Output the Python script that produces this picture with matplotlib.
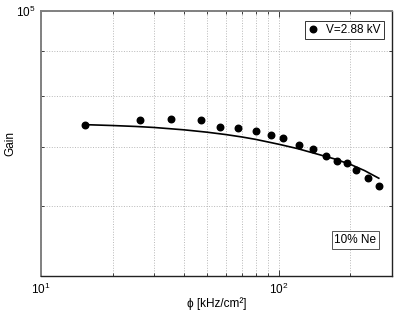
import numpy as np
import matplotlib
matplotlib.use('Agg')
import matplotlib.pyplot as plt
from matplotlib.ticker import FixedLocator, NullFormatter, LogFormatterSciNotation

plt.rcParams['font.family'] = ['Liberation Sans', 'DejaVu Sans']
plt.rcParams['font.size'] = 8.5

# measured points (rate in kHz/cm^2, gain)
rate = [15.3, 26.1, 35.3, 47.1, 56.6, 67.2, 80.0, 92.5, 103.9, 122.1,
        139.8, 157.6, 176.0, 193.2, 211.4, 236.8, 265.0]
gain = [74250, 75220, 75300, 75170, 73870, 73680, 73050, 72340, 71770, 70420,
        69740, 68420, 67580, 67130, 65960, 64600, 63210]

# fit curve
fit_rate = [15.3, 20, 25, 30, 40, 50, 60, 70, 80, 100, 120, 140, 170, 200, 230, 264]
fit_gain = [74250, 74080, 73900, 73700, 73250, 72800, 72350, 71900, 71450, 70550,
            69750, 68950, 67950, 66950, 65850, 64550]

legend_label = 'V=2.88 kV'
box_text = '10% Ne'

fig = plt.figure(figsize=(4.09, 3.14), dpi=100)
ax = fig.add_axes([0.1002, 0.121, 0.8582, 0.845])

ax.plot(fit_rate, fit_gain, color='black', lw=1.2, zorder=3)
ax.plot(rate, gain, 'o', color='black', ms=4.7, ls='none', label=legend_label, zorder=4)

ax.set_xscale('log')
ax.set_yscale('log')
ax.set_xlim(10, 300)
ax.set_ylim(5e4, 1e5)

ax.xaxis.set_major_locator(FixedLocator([10, 100]))
ax.xaxis.set_minor_locator(FixedLocator([20, 30, 40, 50, 60, 70, 80, 90, 200]))
ax.xaxis.set_major_formatter(LogFormatterSciNotation())
ax.xaxis.set_minor_formatter(NullFormatter())
ax.yaxis.set_major_locator(FixedLocator([1e5]))
ax.yaxis.set_minor_locator(FixedLocator([6e4, 7e4, 8e4, 9e4]))
ax.yaxis.set_major_formatter(LogFormatterSciNotation())
ax.yaxis.set_minor_formatter(NullFormatter())

ax.tick_params(which='both', direction='in', top=True, right=True, colors='#222222',
               labelcolor='black', width=0.6)
ax.tick_params(which='major', length=4, pad=4)
ax.tick_params(which='minor', length=2.5)

ax.grid(True, which='both', ls=':', color='#b8b8b8', lw=0.7)

for s in ['left', 'top']:
    ax.spines[s].set_color('#808080')
    ax.spines[s].set_linewidth(1.4)
for s in ['right', 'bottom']:
    ax.spines[s].set_color('#222222')
    ax.spines[s].set_linewidth(1.0)

ax.set_xlabel('\u03d5 [kHz/cm\u00b2]', labelpad=0)
ax.set_ylabel('Gain')
ax.yaxis.set_label_coords(-0.07, 0.5)

leg = ax.legend(loc='upper right', bbox_to_anchor=(0.977, 0.962), borderaxespad=0,
                fancybox=False, edgecolor='#333333', framealpha=1,
                handlelength=1.0, handletextpad=0.6, borderpad=0.25, numpoints=1)
leg.get_frame().set_linewidth(0.7)

ax.text(0.896, 0.136, box_text, transform=ax.transAxes, ha='center', va='center',
        bbox=dict(boxstyle='square,pad=0.25', fc='white', ec='#555555', lw=0.7), zorder=5)

fig.savefig('out.png', dpi=100)
